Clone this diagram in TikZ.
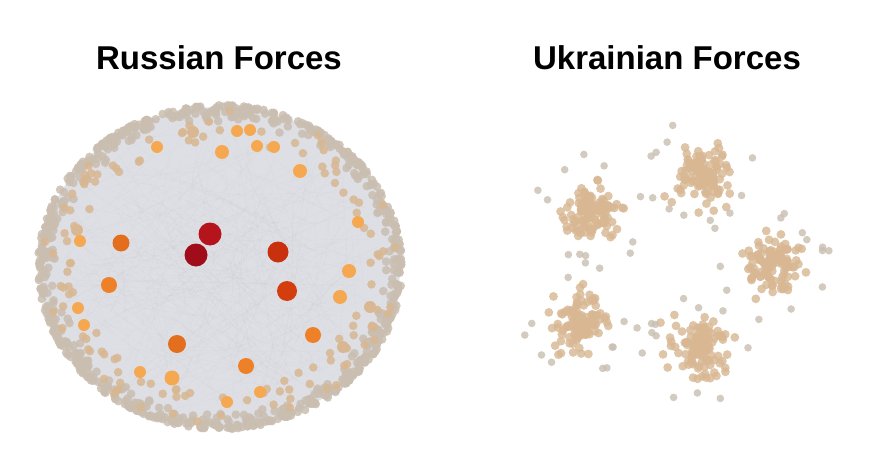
\documentclass[tikz,border=0pt]{standalone}
\usepackage{fontspec}
\setmainfont{Liberation Sans}
\definecolor{netgray}{RGB}{222,223,228}
\definecolor{ringc}{RGB}{201,190,176}
\definecolor{tanc}{RGB}{216,183,146}
\definecolor{orl}{RGB}{246,168,80}
\definecolor{orm}{RGB}{238,128,40}
\definecolor{ord}{RGB}{226,110,30}
\definecolor{redd}{RGB}{160,12,26}
\definecolor{redm}{RGB}{182,20,28}
\definecolor{redo}{RGB}{200,48,14}
\definecolor{redp}{RGB}{212,62,14}
\tikzset{
  titletext/.style={font=\fontsize{33}{36}\selectfont\bfseries, anchor=base, inner sep=0pt},
  edgeline/.style={draw=gray!50, line width=0.3pt, opacity=0.13},
  ringdot/.style={fill=ringc, fill opacity=0.85},
  tandot/.style={fill=tanc, fill opacity=0.85},
  ukdot/.style={fill=tanc, fill opacity=0.8},
  ukout/.style={fill=ringc, fill opacity=0.8},
  hub/.style={circle, inner sep=0pt, draw=none}
}
\begin{document}
\begin{tikzpicture}[x=1pt,y=-1pt]
\useasboundingbox (0,0) rectangle (891,468);
\fill[white] (0,0) rectangle (891,468);
\pgfmathsetseed{4242}
\node[titletext] (rt) at (219,70) {Russian Forces};
\node[titletext] (ut) at (667,70) {Ukrainian Forces};
% Russian network
\fill[netgray] (220,267) ellipse [x radius=180pt, y radius=160pt];
\foreach \i in {1,...,300}{
  \pgfmathsetmacro\aa{360*rnd}\pgfmathsetmacro\ra{sqrt(rnd)}
  \pgfmathsetmacro\ab{360*rnd}\pgfmathsetmacro\rb{sqrt(rnd)}
  \draw[edgeline] ({220+172*\ra*cos(\aa)},{267+152*\ra*sin(\aa)}) -- ({220+172*\rb*cos(\ab)},{267+152*\rb*sin(\ab)});
}
\foreach \i in {1,...,720}{
  \pgfmathsetmacro\aa{360*rnd}
  \pgfmathsetmacro\ff{1-0.11*rnd*rnd}
  \fill[ringdot] ({220+182*\ff*cos(\aa)},{267+162*\ff*sin(\aa)}) circle (4.3pt);
}
\foreach \i in {1,...,130}{
  \pgfmathsetmacro\aa{360*rnd}
  \pgfmathsetmacro\ff{1-0.2*rnd}
  \fill[tandot] ({220+178*\ff*cos(\aa)},{267+158*\ff*sin(\aa)}) circle (4.3pt);
}
% orange hubs
\foreach \x/\y/\r/\c in {157/147/6/orl, 193/132/6/tanc, 237/131/6/orl, 250/130/6/orl, 257/146/6/orl, 274/147/6/orl,
  222/152/7/orl, 300/171/7/orl, 358/222/6/orl, 77/230/6/tanc, 80/241/6/orl, 349/271/7/orl, 340/297/7/orl,
  78/308/6/orl, 84/325/6/orl, 370/307/6/tanc, 343/347/6/tanc, 313/335/8/orm, 140/372/6/orl,
  172/378/7.5/orl, 246/366/8/orm, 227/402/6/orl, 260/392/6/orl, 121/243/8.5/ord, 109/285/8/orm, 177/344/9/ord}{
  \node[hub, fill=\c, minimum size=2*\r pt] at (\x,\y) {};
}
\node[hub, fill=redm, minimum size=23pt] (r1) at (210,234) {};
\node[hub, fill=redd, minimum size=23pt] (r2) at (196,255) {};
\node[hub, fill=redo, minimum size=21pt] (r3) at (278,252) {};
\node[hub, fill=redp, minimum size=20pt] (r4) at (287,291) {};
% Ukrainian network
\foreach \cx/\cy in {702/175, 590/212, 773/265, 580/320, 700/350}{
  \foreach \i in {1,...,110}{
    \pgfmathsetmacro\dx{14*(rand+rand+rand)}
    \pgfmathsetmacro\dy{14*(rand+rand+rand)}
    \fill[ukdot] ({\cx+(\dx)},{\cy+(\dy)}) circle (4.4pt);
  }
  \foreach \i in {1,...,12}{
    \pgfmathsetmacro\aa{360*rnd}
    \pgfmathsetmacro\rr{42+16*rnd}
    \fill[ukout] ({\cx+\rr*cos(\aa)},{\cy+\rr*sin(\aa)}) circle (3.8pt);
  }
}
\end{tikzpicture}
\end{document}
